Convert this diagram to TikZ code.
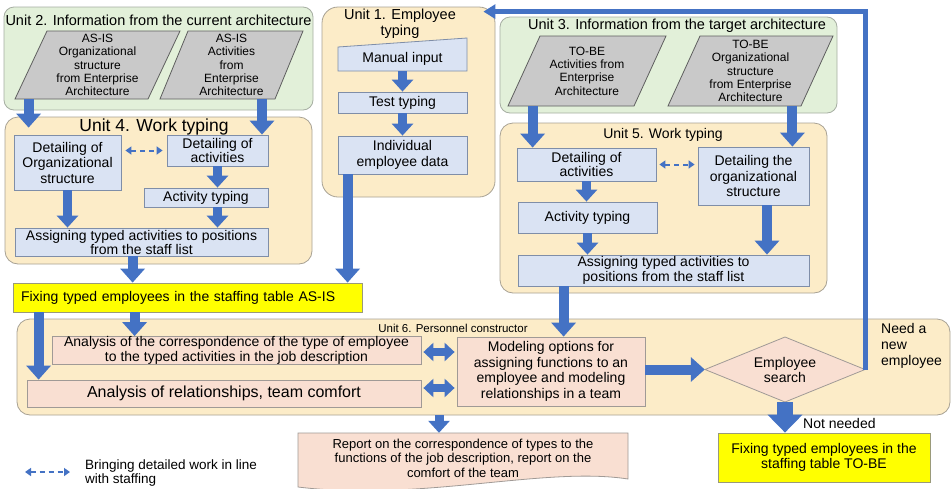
\documentclass[tikz,border=0pt]{standalone}
\usepackage{fontspec}
\setmainfont{Liberation Sans}
\usetikzlibrary{arrows.meta,calc}
\definecolor{ablue}{HTML}{4472C4}
\definecolor{bfill}{HTML}{DAE3F3}
\definecolor{bborder}{HTML}{7F8EA8}
\definecolor{gfill}{HTML}{E2F0D9}
\definecolor{gborder}{HTML}{A6AEA2}
\definecolor{ofill}{HTML}{FCECC8}
\definecolor{oborder}{HTML}{A8A294}
\definecolor{pfill}{HTML}{F9DFD2}
\definecolor{pborder}{HTML}{A09A96}
\definecolor{parafill}{HTML}{C9C9C9}
\definecolor{paraborder}{HTML}{5E5E5E}
\definecolor{yfill}{HTML}{FFFF00}
\definecolor{yborder}{HTML}{9A9A7A}
\newcommand\fsz[2]{\fontsize{#1}{#2}\selectfont}
\begin{document}
\begin{tikzpicture}[x=1pt,y=-1pt,
  greenunit/.style={draw=gborder, fill=gfill, rounded corners=10pt, line width=0.8pt, inner sep=0pt},
  orangeunit/.style={draw=oborder, fill=ofill, rounded corners=13pt, line width=0.8pt, inner sep=0pt},
  bbox/.style={draw=bborder, fill=bfill, line width=0.8pt, align=center, inner sep=0pt, font=\fsz{14}{15.5}},
  pbox/.style={draw=pborder, fill=pfill, line width=0.8pt, align=center, inner sep=0pt, font=\fsz{14}{15.5}},
  ybox/.style={draw=yborder, fill=yfill, line width=0.8pt, inner sep=0pt, font=\fsz{14}{15.5}},
  para/.style={draw=paraborder, fill=parafill, line width=0.8pt},
  ptxt/.style={align=center, inner sep=0pt, font=\fsz{12}{13.3}},
  utitle/.style={inner sep=0pt, font=\fsz{14.5}{16}, align=center},
  barrow/.style={draw=ablue, line width=10pt, -{Triangle[length=14pt,width=24pt]}},
  sarrow/.style={draw=ablue, line width=9pt, -{Triangle[length=12pt,width=21pt]}},
  dbarrow/.style={draw=ablue, line width=8pt, {Triangle[length=10pt,width=18pt]}-{Triangle[length=10pt,width=18pt]}},
  fatarrow/.style={draw=ablue, line width=16pt, -{Triangle[length=18pt,width=34pt]}},
  farrow/.style={draw=ablue, line width=5pt, -{Triangle[length=12pt,width=14pt]}},
  darrow/.style={draw=ablue, line width=2pt, dash pattern=on 5pt off 4pt, {Triangle[length=6pt,width=8pt]}-{Triangle[length=6pt,width=8pt]}}
]
\useasboundingbox (0,0) rectangle (951,488);
\fill[white] (0,0) rectangle (951,488);

% ---------- containers ----------
\node[greenunit, minimum width=309, minimum height=103] (u2) at (158.5,58.5) {};
\node[orangeunit, minimum width=307, minimum height=147] (u4) at (158.5,190.5) {};
\node[orangeunit, rounded corners=16pt, minimum width=173, minimum height=190] (u1) at (408.5,102) {};
\node[greenunit, minimum width=337, minimum height=96] (u3) at (668.5,65) {};
\node[orangeunit, minimum width=327, minimum height=170] (u5) at (663.5,208) {};
\node[orangeunit, minimum width=933, minimum height=96] (u6) at (483.5,367) {};

% ---------- titles ----------
\node[utitle] (u2t) at (158.5,20) {Unit 2. Information from the current architecture};
\node[utitle, font=\fsz{17.5}{19}] (u4t) at (154,127) {Unit 4. Work typing};
\node[utitle] (u1t) at (400,24) {Unit 1. Employee\\typing};
\node[utitle] (u3t) at (677,26) {Unit 3. Information from the target architecture};
\node[utitle, font=\fsz{14}{16}] (u5t) at (663,135) {Unit 5. Work typing};
\node[inner sep=0pt, font=\fsz{11.5}{13}] (u6t) at (453,328) {Unit 6. Personnel constructor};

% ---------- Unit 2 ----------
\draw[para] (15,99) -- (47,31) -- (180,31) -- (148,99) -- cycle;
\node[ptxt, minimum height=68] (p2a) at (97.5,65) {AS-IS\\Organizational\\structure\\from Enterprise\\Architecture};
\draw[para] (160,99) -- (188,31) -- (303,31) -- (275,99) -- cycle;
\node[ptxt, minimum height=68] (p2b) at (231.5,65) {AS-IS\\Activities\\from\\Enterprise\\Architecture};

% ---------- Unit 4 ----------
\node[bbox, minimum width=107, minimum height=55] (d4o) at (67.5,162.5) {Detailing of\\Organizational\\structure};
\node[bbox, minimum width=101, minimum height=31, font=\fsz{14}{14}] (d4a) at (217.5,150.5) {Detailing of\\activities};
\node[bbox, minimum width=124, minimum height=19] (at4) at (206,197.5) {Activity typing};
\node[bbox, minimum width=253, minimum height=28, font=\fsz{14}{14}] (as4) at (141.5,242) {Assigning typed activities to positions\\from the staff list};

% ---------- Unit 1 ----------
\draw[draw=bborder, fill=bfill, line width=0.8pt] (338,47) -- (467,38) -- (467,71) -- (338,71) -- cycle;
\node[inner sep=0pt, font=\fsz{14}{15.5}, minimum height=24] (mi) at (402.5,59) {Manual input};
\node[bbox, minimum width=129, minimum height=21] (tt) at (402.5,102.5) {Test typing};
\node[bbox, minimum width=129, minimum height=38] (ied) at (402.5,155) {Individual\\employee data};

% ---------- Unit 3 ----------
\draw[para] (508,106) -- (540,36) -- (666,36) -- (634,106) -- cycle;
\node[ptxt, minimum height=70] (p3a) at (587,71) {TO-BE\\Activities from\\Enterprise\\Architecture};
\draw[para] (668,106) -- (700,36) -- (833,36) -- (801,106) -- cycle;
\node[ptxt, minimum height=70] (p3b) at (750.5,71) {TO-BE\\Organizational\\structure\\from Enterprise\\Architecture};

% ---------- Unit 5 ----------
\node[bbox, minimum width=139, minimum height=33, font=\fsz{14}{14.5}] (d5a) at (586.5,164.5) {Detailing of\\activities};
\node[bbox, minimum width=111, minimum height=58] (d5o) at (753.5,176) {Detailing the\\organizational\\structure};
\node[bbox, minimum width=139, minimum height=31] (at5) at (587.5,217.5) {Activity typing};
\node[bbox, minimum width=291, minimum height=31, font=\fsz{14}{15}] (as5) at (663.5,270.5) {Assigning typed activities to\\positions from the staff list};

% ---------- yellow AS-IS ----------
\node[ybox, minimum width=349, minimum height=29, text width=333, align=left, inner xsep=8pt] (yas) at (187.5,297.5) {Fixing typed employees in the staffing table AS-IS};

% ---------- Unit 6 ----------
\node[pbox, minimum width=369, minimum height=27, font=\fsz{14}{15}] (ac) at (236.5,350.5) {Analysis of the correspondence of the type of employee\\to the typed activities in the job description};
\node[pbox, minimum width=394, minimum height=27, font=\fsz{16}{17}] (ar) at (224,393.5) {Analysis of relationships, team comfort};
\node[pbox, minimum width=188, minimum height=69, font=\fsz{14}{15.7}] (mo) at (551,371.5) {Modeling options for\\assigning functions to an\\employee and modeling\\relationships in a team};
\draw[draw=pborder, fill=pfill, line width=0.8pt] (705,369.5) -- (785,337) -- (865,369.5) -- (785,402) -- cycle;
\node[inner sep=0pt, minimum width=160, minimum height=65, align=center, font=\fsz{14}{15}] (ds) at (785,369.5) {Employee\\search};
\node[anchor=north west, inner sep=0pt, align=left, font=\fsz{14}{16}] (ne) at (881,323) {Need a\\new\\employee};

% ---------- outputs ----------
\draw[draw=pborder, fill=pfill, line width=0.8pt] (298,433) -- (628,433) -- (628,479) .. controls (545,466) and (420,502) .. (298,487) -- cycle;
\node[inner sep=0pt, minimum height=50, align=center, font=\fsz{13}{14.5}] (rep) at (463,458) {Report on the correspondence of types to the\\functions of the job description, report on the\\comfort of the team};
\node[ybox, minimum width=212, minimum height=49, align=center] (ytb) at (824,457.5) {Fixing typed employees in the\\staffing table TO-BE};
\node[anchor=west, inner sep=0pt, font=\fsz{14}{15}] (nn) at (803,423) {Not needed};

% ---------- legend ----------
\coordinate (l1) at (25,472);
\coordinate (l2) at (70,472);
\draw[darrow] (l1) -- (l2);
\node[anchor=north west, inner sep=0pt, align=left, font=\fsz{13.5}{14}] (lg) at (85,459.5) {Bringing detailed work in line\\with staffing};

% ---------- connectors ----------
% Unit 2 -> Unit 4
\coordinate (c1) at ($(d4o.north west)+(15,-7)$);
\draw[barrow] (c1 |- p2a.south) -- (c1);
\coordinate (c2) at ($(d4a.north)+(44.5,0)$);
\draw[barrow] (c2 |- p2b.south) -- (c2);
% inside Unit 4
\draw[sarrow] (d4o.south) -- (d4o.south |- as4.north);
\draw[sarrow] (d4a.south) -- (d4a.south |- at4.north);
\draw[sarrow] (d4a.south |- at4.south) -- (d4a.south |- as4.north);
\draw[darrow] ($(d4o.east |- d4a.west)+(4,0)$) -- ($(d4a.west)+(-4,0)$);
% Unit 1
\draw[sarrow] (mi.south) -- (tt.north);
\draw[sarrow] (tt.south) -- (ied.north);
\coordinate (c3) at ($(ied.south west)+(10,0)$);
\draw[barrow] (c3) -- (c3 |- yas.north);
% Unit 3 -> Unit 5
\coordinate (c4) at ($(d5a.north west)+(16,0)$);
\draw[barrow] (c4 |- p3a.south) -- (c4);
\coordinate (c5) at ($(d5o.north east)+(-17,0)$);
\draw[barrow] (c5 |- p3b.south) -- (c5);
% inside Unit 5
\draw[sarrow] (d5a.south) -- (d5a.south |- at5.north);
\draw[sarrow] (at5.south) -- (at5.south |- as5.north);
\coordinate (c6) at ($(d5o.south)+(13.5,0)$);
\draw[barrow] (c6) -- (c6 |- as5.north);
\draw[darrow] ($(d5a.east)+(3,0)$) -- ($(d5o.west |- d5a.east)+(-3,0)$);
% Unit 4 -> yellow
\coordinate (c7) at ($(as4.south west)+(118,0)$);
\draw[barrow] (c7) -- (c7 |- yas.north);
% Unit 5 -> modeling
\coordinate (c8) at ($(as5.south west)+(46,0)$);
\draw[barrow] (c8) -- (c8 |- mo.north);
% yellow -> Unit 6
\coordinate (c9) at ($(yas.south west)+(26,0)$);
\draw[barrow] (c9) -- (c9 |- ar.north);
\coordinate (c10) at ($(yas.south west)+(122,0)$);
\draw[barrow] (c10) -- (c10 |- ac.north);
% analysis <-> modeling
\draw[dbarrow] ($(ac.east)+(2,1.5)$) -- ($(mo.west |- ac.east)+(-2,1.5)$);
\draw[dbarrow] ($(ar.east)+(2,-5.5)$) -- ($(mo.west |- ar.east)+(-2,-5.5)$);
% modeling -> search
\draw[barrow] (ds.west -| mo.east) -- (ds.west);
% search -> TO-BE
\draw[fatarrow] (ds.south) -- (ds.south |- ytb.north);
% Unit 6 -> report
\coordinate (c11) at ($(u6.south)+(-44.5,0)$);
\draw[sarrow] (c11) -- (c11 |- rep.north);
% feedback: need a new employee
\draw[farrow, rounded corners=0pt] (ds.east) |- ($(u1.north east)+(-12,5)$);
\end{tikzpicture}
\end{document}
